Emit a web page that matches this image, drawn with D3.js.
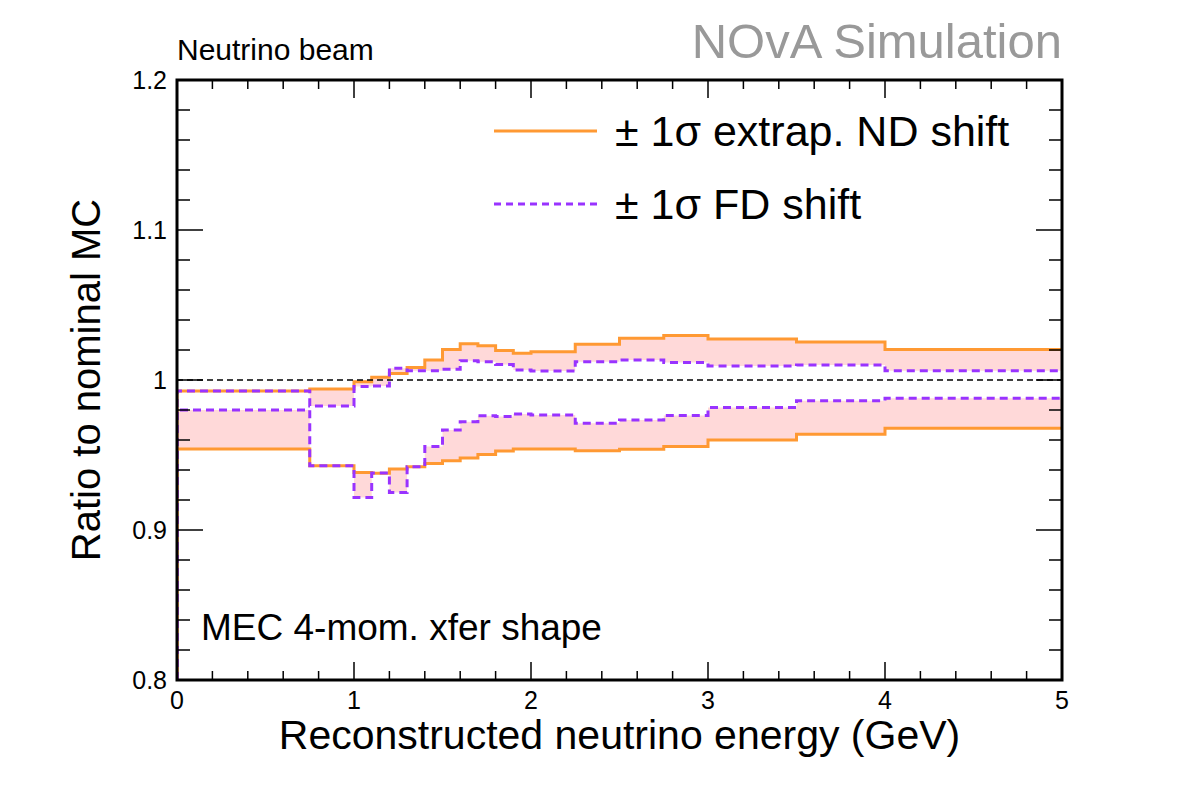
<!DOCTYPE html>
<html>
<head>
<meta charset="utf-8">
<script src="https://cdn.jsdelivr.net/npm/d3@7"></script>
<style>
  body { margin: 0; background: #fff; }
  svg { display: block; font-family: "Liberation Sans", Arial, sans-serif; }
</style>
</head>
<body>
<div id="chart"></div>
<script>
// bin edges (GeV) and ratio values per bin
const binEdges = [0, 0.75, 1.0, 1.1, 1.2, 1.3, 1.4, 1.5, 1.6, 1.7, 1.8, 1.9, 2.0, 2.25, 2.5, 2.75, 3.0, 3.5, 4.0, 5.0];
const ndShiftUp   = [0.9927, 0.994, 0.9989, 1.0018, 1.0044, 1.0084, 1.0133, 1.0204, 1.0241, 1.0229, 1.0196, 1.0178, 1.0189, 1.0238, 1.0278, 1.0296, 1.0273, 1.0253, 1.0204];
const ndShiftDown = [0.954, 0.9429, 0.9384, 0.9378, 0.9407, 0.9422, 0.9444, 0.9462, 0.948, 0.9504, 0.9527, 0.954, 0.954, 0.9529, 0.9538, 0.9556, 0.96, 0.9638, 0.9678];
const fdShiftUp   = [0.9927, 0.9827, 0.9956, 0.996, 1.0078, 1.0062, 1.0062, 1.0071, 1.0129, 1.0122, 1.0104, 1.0067, 1.006, 1.0122, 1.0133, 1.0116, 1.0093, 1.01, 1.0062];
const fdShiftDown = [0.98, 0.9429, 0.9216, 0.938, 0.925, 0.9422, 0.9556, 0.9667, 0.9722, 0.9762, 0.9756, 0.9773, 0.9767, 0.9711, 0.9733, 0.9764, 0.9816, 0.9862, 0.9878];
const xTickLabels = [0, 1, 2, 3, 4, 5];
const yTickLabels = [0.8, 0.9, 1, 1.1, 1.2];
const legendLabels = ["\u00b1 1\u03c3 extrap. ND shift", "\u00b1 1\u03c3 FD shift"];

const width = 1182;
const height = 800;
const margin = { top: 80, right: 120, bottom: 120, left: 177 };
const orange = "#ff9933";
const purple = "#9933ff";
const fillPink = "#ffd9d9";

const x = d3.scaleLinear().domain([0, 5]).range([margin.left, width - margin.right]);
const y = d3.scaleLinear().domain([0.8, 1.2]).range([height - margin.bottom, margin.top]);

const svg = d3.select("#chart").append("svg")
    .attr("width", width)
    .attr("height", height);

svg.append("clipPath").attr("id", "plot-clip")
  .append("rect")
    .attr("x", x(0)).attr("y", y(1.2))
    .attr("width", x(5) - x(0)).attr("height", y(0.8) - y(1.2));

// step points: one per bin low edge plus closing point at last edge
function stepPoints(vals) {
    const pts = vals.map((v, i) => ({ e: binEdges[i], v: v }));
    pts.push({ e: binEdges[binEdges.length - 1], v: vals[vals.length - 1] });
    return pts;
}

const plot = svg.append("g").attr("clip-path", "url(#plot-clip)");

// shaded band between ND and FD shifts
const band = d3.area()
    .curve(d3.curveStepAfter)
    .x(d => x(d.e))
    .y0(d => y(d.a))
    .y1(d => y(d.b));

function bandData(a, b) {
    const pts = a.map((v, i) => ({ e: binEdges[i], a: v, b: b[i] }));
    pts.push({ e: binEdges[binEdges.length - 1], a: a[a.length - 1], b: b[b.length - 1] });
    return pts;
}

plot.append("path").datum(bandData(ndShiftUp, fdShiftUp))
    .attr("fill", fillPink).attr("d", band);
plot.append("path").datum(bandData(ndShiftDown, fdShiftDown))
    .attr("fill", fillPink).attr("d", band);

// histogram outlines, starting from the axis baseline like ROOT does
const stepLine = d3.line()
    .curve(d3.curveStepAfter)
    .x(d => x(d.e))
    .y(d => y(d.v));

function histPath(vals) {
    const pts = stepPoints(vals);
    return "M" + x(binEdges[0]) + "," + y(y.domain()[0]) + "L" + stepLine(pts).slice(1);
}

[ndShiftUp, ndShiftDown].forEach(vals => {
    plot.append("path")
        .attr("fill", "none")
        .attr("stroke", orange)
        .attr("stroke-width", 3)
        .attr("d", histPath(vals));
});

[fdShiftUp, fdShiftDown].forEach(vals => {
    plot.append("path")
        .attr("fill", "none")
        .attr("stroke", purple)
        .attr("stroke-width", 3)
        .attr("stroke-dasharray", "8,5")
        .attr("d", histPath(vals));
});

// reference line at 1
svg.append("line")
    .attr("x1", x(0)).attr("x2", x(5))
    .attr("y1", y(1)).attr("y2", y(1))
    .attr("stroke", "#000")
    .attr("stroke-width", 1.5)
    .attr("stroke-dasharray", "6,4");

// ticks on all four sides
const ticks = svg.append("g").attr("stroke", "#000").attr("stroke-width", 1.5);
const xMinor = d3.range(0, 5.001, 0.2);
xMinor.forEach(t => {
    const major = Math.abs(t - Math.round(t)) < 1e-6;
    const len = major ? 18 : 9;
    ticks.append("line").attr("x1", x(t)).attr("x2", x(t))
        .attr("y1", y(0.8)).attr("y2", y(0.8) - len);
    ticks.append("line").attr("x1", x(t)).attr("x2", x(t))
        .attr("y1", y(1.2)).attr("y2", y(1.2) + len);
});
const yMinor = d3.range(0.8, 1.2001, 0.02);
yMinor.forEach(t => {
    const major = Math.abs(t * 10 - Math.round(t * 10)) < 1e-6;
    const len = major ? 26 : 13;
    ticks.append("line").attr("y1", y(t)).attr("y2", y(t))
        .attr("x1", x(0)).attr("x2", x(0) + len);
    ticks.append("line").attr("y1", y(t)).attr("y2", y(t))
        .attr("x1", x(5)).attr("x2", x(5) - len);
});

// frame
svg.append("rect")
    .attr("x", x(0)).attr("y", y(1.2))
    .attr("width", x(5) - x(0)).attr("height", y(0.8) - y(1.2))
    .attr("fill", "none")
    .attr("stroke", "#000")
    .attr("stroke-width", 3);

// tick labels
svg.append("g").selectAll("text")
    .data(xTickLabels)
    .join("text")
    .attr("x", d => x(d))
    .attr("y", y(0.8) + 29)
    .attr("text-anchor", "middle")
    .attr("font-size", 25)
    .text(d => d);

svg.append("g").selectAll("text")
    .data(yTickLabels)
    .join("text")
    .attr("x", x(0) - 10)
    .attr("y", d => y(d) + 9)
    .attr("text-anchor", "end")
    .attr("font-size", 25)
    .text(d => d);

// axis titles
svg.append("text")
    .attr("x", (x(0) + x(5)) / 2)
    .attr("y", 749)
    .attr("text-anchor", "middle")
    .attr("font-size", 41)
    .text("Reconstructed neutrino energy (GeV)");

svg.append("text")
    .attr("transform", `translate(100,${y(1)}) rotate(-90)`)
    .attr("text-anchor", "middle")
    .attr("font-size", 40)
    .text("Ratio to nominal MC");

// labels
svg.append("text")
    .attr("x", x(5)).attr("y", 58)
    .attr("text-anchor", "end")
    .attr("font-size", 49)
    .attr("fill", "#999")
    .text("NOvA Simulation");

svg.append("text")
    .attr("x", x(0)).attr("y", 60)
    .attr("font-size", 30)
    .text("Neutrino beam");

svg.append("text")
    .attr("x", 201).attr("y", 640)
    .attr("font-size", 37)
    .text("MEC 4-mom. xfer shape");

// legend
const legend = svg.append("g");
legendLabels.forEach((label, i) => {
    const ly = 131 + i * 73;
    legend.append("line")
        .attr("x1", 494).attr("x2", 597)
        .attr("y1", ly).attr("y2", ly)
        .attr("stroke", i === 0 ? orange : purple)
        .attr("stroke-width", 3)
        .attr("stroke-dasharray", i === 0 ? null : "7,5");
    legend.append("text")
        .attr("x", 615).attr("y", ly + 15)
        .attr("font-size", 43)
        .text(label);
});
</script>
</body>
</html>
